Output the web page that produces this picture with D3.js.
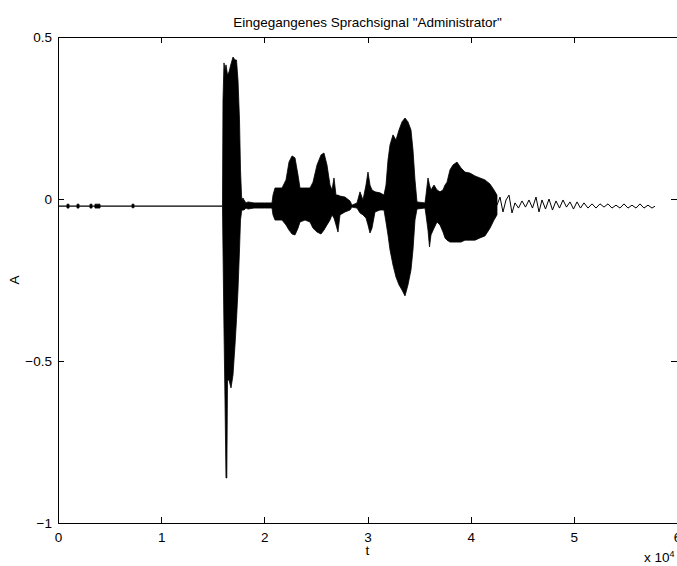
<!DOCTYPE html>
<html>
  <head>
    <title>Eingegangenes Sprachsignal</title>
    <meta charset="utf-8">
    <style>
      body { margin: 0; background: #fff; }
      svg text { font-family: "Liberation Sans", Arial, Helvetica, sans-serif; font-size: 13.5px; fill: #000; }
      .axis path, .axis line { stroke: #000; stroke-width: 1px; shape-rendering: crispEdges; }
      .env { fill: #000; stroke: #000; stroke-width: 0.8px; stroke-linejoin: round; }
      .tail { fill: none; stroke: #000; stroke-width: 1px; stroke-linejoin: round; }
    </style>
  </head>
  <body>
    <div class="chart-container"></div>
    <script src="https://cdn.jsdelivr.net/npm/d3@7"></script>
    <script>

// envelope of the dense part of the signal: sample index, upper and lower amplitude
var envT = [
  0, 860, 872, 1066, 1080, 1830, 1842, 2036, 2050, 3090, 3102, 3296, 3310, 3570, 3586, 4071, 4090,
  7160, 7173, 7367, 7380, 15945,
  15993, 16090, 16187, 16284, 16362, 16430, 16575, 16769, 16963, 17157, 17302, 17447, 17593, 17690, 17787, 17835,
  17932, 18029, 18223, 18420, 19000, 20000, 20743,
  20840, 21034, 21712, 22100, 22391, 22682, 22972, 23263, 23457, 23942, 24426, 24717, 25105, 25493, 25783, 26074, 26365,
  26559, 26753, 26947, 27140, 27334, 27819, 28304, 28497, 28982, 29273, 29564, 29854, 30048, 30242, 30436, 30727, 31211, 31599,
  31793, 31987, 32181, 32472, 32762, 33053, 33344, 33635, 33925, 34216, 34410, 34604, 34798,
  35573, 35670, 35864, 36010, 36155, 36446, 36737, 37027, 37318, 37512,
  37706, 37997, 38287, 38675, 39063, 39450, 39935, 40420, 40904, 41389, 41874, 42261, 42552
];
var envHi = [
  -0.022, -0.022, -0.016, -0.016, -0.022, -0.022, -0.016, -0.016, -0.022, -0.022, -0.016, -0.016, -0.022, -0.022, -0.016, -0.016, -0.022,
  -0.022, -0.016, -0.016, -0.022, -0.022,
  0.306, 0.420, 0.398, 0.414, 0.398, 0.383, 0.392, 0.417, 0.438, 0.429, 0.429, 0.367, 0.244, 0.090, 0.012, -0.003,
  0.003, -0.003, -0.012, -0.009, -0.012, -0.012, -0.012,
  0.012, 0.034, 0.034, 0.059, 0.114, 0.133, 0.127, 0.074, 0.034, 0.034, 0.034, 0.052, 0.105, 0.136, 0.142, 0.105, 0.043,
  0.028, 0.065, 0.012, 0.012, 0.009, 0.006, -0.006, -0.019, -0.012, 0.022, -0.003, 0.043, 0.083, 0.043, 0.028, 0.022, 0.019, 0.012,
  0.043, 0.120, 0.167, 0.198, 0.182, 0.213, 0.238, 0.250, 0.238, 0.213, 0.151, 0.059, -0.009,
  -0.012, 0.012, 0.065, 0.043, 0.028, 0.043, 0.028, 0.022, 0.028, 0.043,
  0.052, 0.090, 0.105, 0.114, 0.096, 0.083, 0.080, 0.071, 0.065, 0.059, 0.046, 0.028, 0.012
];
var envLo = [
  -0.022, -0.022, -0.028, -0.028, -0.022, -0.022, -0.028, -0.028, -0.022, -0.022, -0.028, -0.028, -0.022, -0.022, -0.028, -0.028, -0.022,
  -0.022, -0.027, -0.027, -0.022, -0.022,
  -0.157, -0.404, -0.620, -0.861, -0.861, -0.559, -0.559, -0.583, -0.543, -0.451, -0.373, -0.281, -0.157, -0.065, -0.040, -0.034,
  -0.034, -0.034, -0.028, -0.031, -0.028, -0.028, -0.028,
  -0.049, -0.065, -0.065, -0.080, -0.096, -0.108, -0.111, -0.090, -0.071, -0.065, -0.071, -0.090, -0.102, -0.108, -0.096, -0.080, -0.065,
  -0.049, -0.059, -0.080, -0.102, -0.049, -0.040, -0.034, -0.025, -0.028, -0.043, -0.049, -0.059, -0.080, -0.105, -0.090, -0.040, -0.034, -0.034,
  -0.071, -0.111, -0.157, -0.204, -0.241, -0.265, -0.281, -0.299, -0.265, -0.219, -0.157, -0.065, -0.031,
  -0.028, -0.049, -0.096, -0.148, -0.111, -0.090, -0.071, -0.080, -0.102, -0.120,
  -0.127, -0.133, -0.133, -0.133, -0.133, -0.127, -0.127, -0.127, -0.120, -0.114, -0.090, -0.065, -0.049
];

// the quiet ending, drawn as a single trace
var tailT = [
  42552, 42843, 43134, 43425, 43716, 44006, 44297, 44636, 44976, 45315, 45654, 45993, 46333, 46624, 46914,
  47254, 47593, 47932, 48271, 48611, 48950, 49289, 49628, 49968, 50307, 50646, 50985, 51373, 51761, 52149,
  52536, 52924, 53312, 53699, 54087, 54475, 54862, 55250, 55638, 56026, 56413, 56801, 57189, 57576, 57867
];
var tailA = [
  -0.019, 0.006, -0.040, -0.003, 0.012, -0.043, -0.012, -0.028, -0.006, -0.025, -0.003, -0.028, 0.006, -0.040, -0.003,
  -0.031, 0.000, -0.034, -0.006, -0.028, -0.003, -0.025, -0.009, -0.031, -0.009, -0.028, -0.012, -0.028, -0.015, -0.028,
  -0.015, -0.025, -0.015, -0.028, -0.019, -0.028, -0.015, -0.028, -0.019, -0.028, -0.015, -0.028, -0.019, -0.028, -0.022
];

var xTicks = [0, 10000, 20000, 30000, 40000, 50000, 60000];
var yTicks = [-1, -0.5, 0, 0.5];

var mLeft = 58, mTop = 37, mRight = 677, mBottom = 523;
var width = 677, height = 566;

var x = d3.scaleLinear().domain([0, 60000]).range([mLeft, mRight]);
var y = d3.scaleLinear().domain([-1, 0.5]).range([mBottom, mTop]);

var svg = d3.select('.chart-container').append('svg')
    .attr('width', width)
    .attr('height', height)
    .style('display', 'block');

var envData = envT.map(function (t, i) { return { t: t, hi: envHi[i], lo: envLo[i] }; });
var tailData = tailT.map(function (t, i) { return { t: t, a: tailA[i] }; });

var area = d3.area()
    .x(function (d) { return x(d.t); })
    .y0(function (d) { return y(d.lo); })
    .y1(function (d) { return y(d.hi); });

var line = d3.line()
    .x(function (d) { return x(d.t); })
    .y(function (d) { return y(d.a); });

svg.append('path')
  .datum(envData)
  .attr('class', 'env')
  .attr('d', area);

svg.append('path')
  .datum(tailData)
  .attr('class', 'tail')
  .attr('d', line);

// axes, ticks inside on all four sides
var fmtX = function (d) { return d3.format('d')(d / 10000); };
var fmtY = function (d) { return d3.format('')(d); };

svg.append('g')
  .attr('class', 'axis')
  .attr('transform', 'translate(0 ' + mBottom + ')')
  .call(d3.axisBottom(x).tickValues(xTicks).tickSizeInner(-6).tickSizeOuter(0).tickPadding(9).tickFormat(fmtX));

svg.append('g')
  .attr('class', 'axis')
  .attr('transform', 'translate(0 ' + mTop + ')')
  .call(d3.axisTop(x).tickValues(xTicks).tickSizeInner(-6).tickSizeOuter(0).tickFormat(''));

svg.append('g')
  .attr('class', 'axis')
  .attr('transform', 'translate(' + mLeft + ' 0)')
  .call(d3.axisLeft(y).tickValues(yTicks).tickSizeInner(-6).tickSizeOuter(0).tickPadding(6).tickFormat(fmtY));

svg.append('g')
  .attr('class', 'axis')
  .attr('transform', 'translate(' + mRight + ' 0)')
  .call(d3.axisRight(y).tickValues(yTicks).tickSizeInner(-6).tickSizeOuter(0).tickFormat(''));

svg.selectAll('.axis text').attr('font-size', null).attr('font-family', null);

svg.append('text')
  .attr('x', (mLeft + mRight) / 2)
  .attr('y', 27)
  .attr('text-anchor', 'middle')
  .text('Eingegangenes Sprachsignal "Administrator"');

svg.append('text')
  .attr('x', (mLeft + mRight) / 2)
  .attr('y', 555)
  .attr('text-anchor', 'middle')
  .text('t');

svg.append('text')
  .attr('transform', 'translate(19 ' + ((mTop + mBottom) / 2) + ') rotate(-90)')
  .attr('text-anchor', 'middle')
  .text('A');

var expo = svg.append('text')
  .attr('x', 644)
  .attr('y', 562);
expo.append('tspan').text('x 10');
expo.append('tspan').attr('dy', -5).attr('font-size', '9px').text('4');

  </script>
</body>
</html>
